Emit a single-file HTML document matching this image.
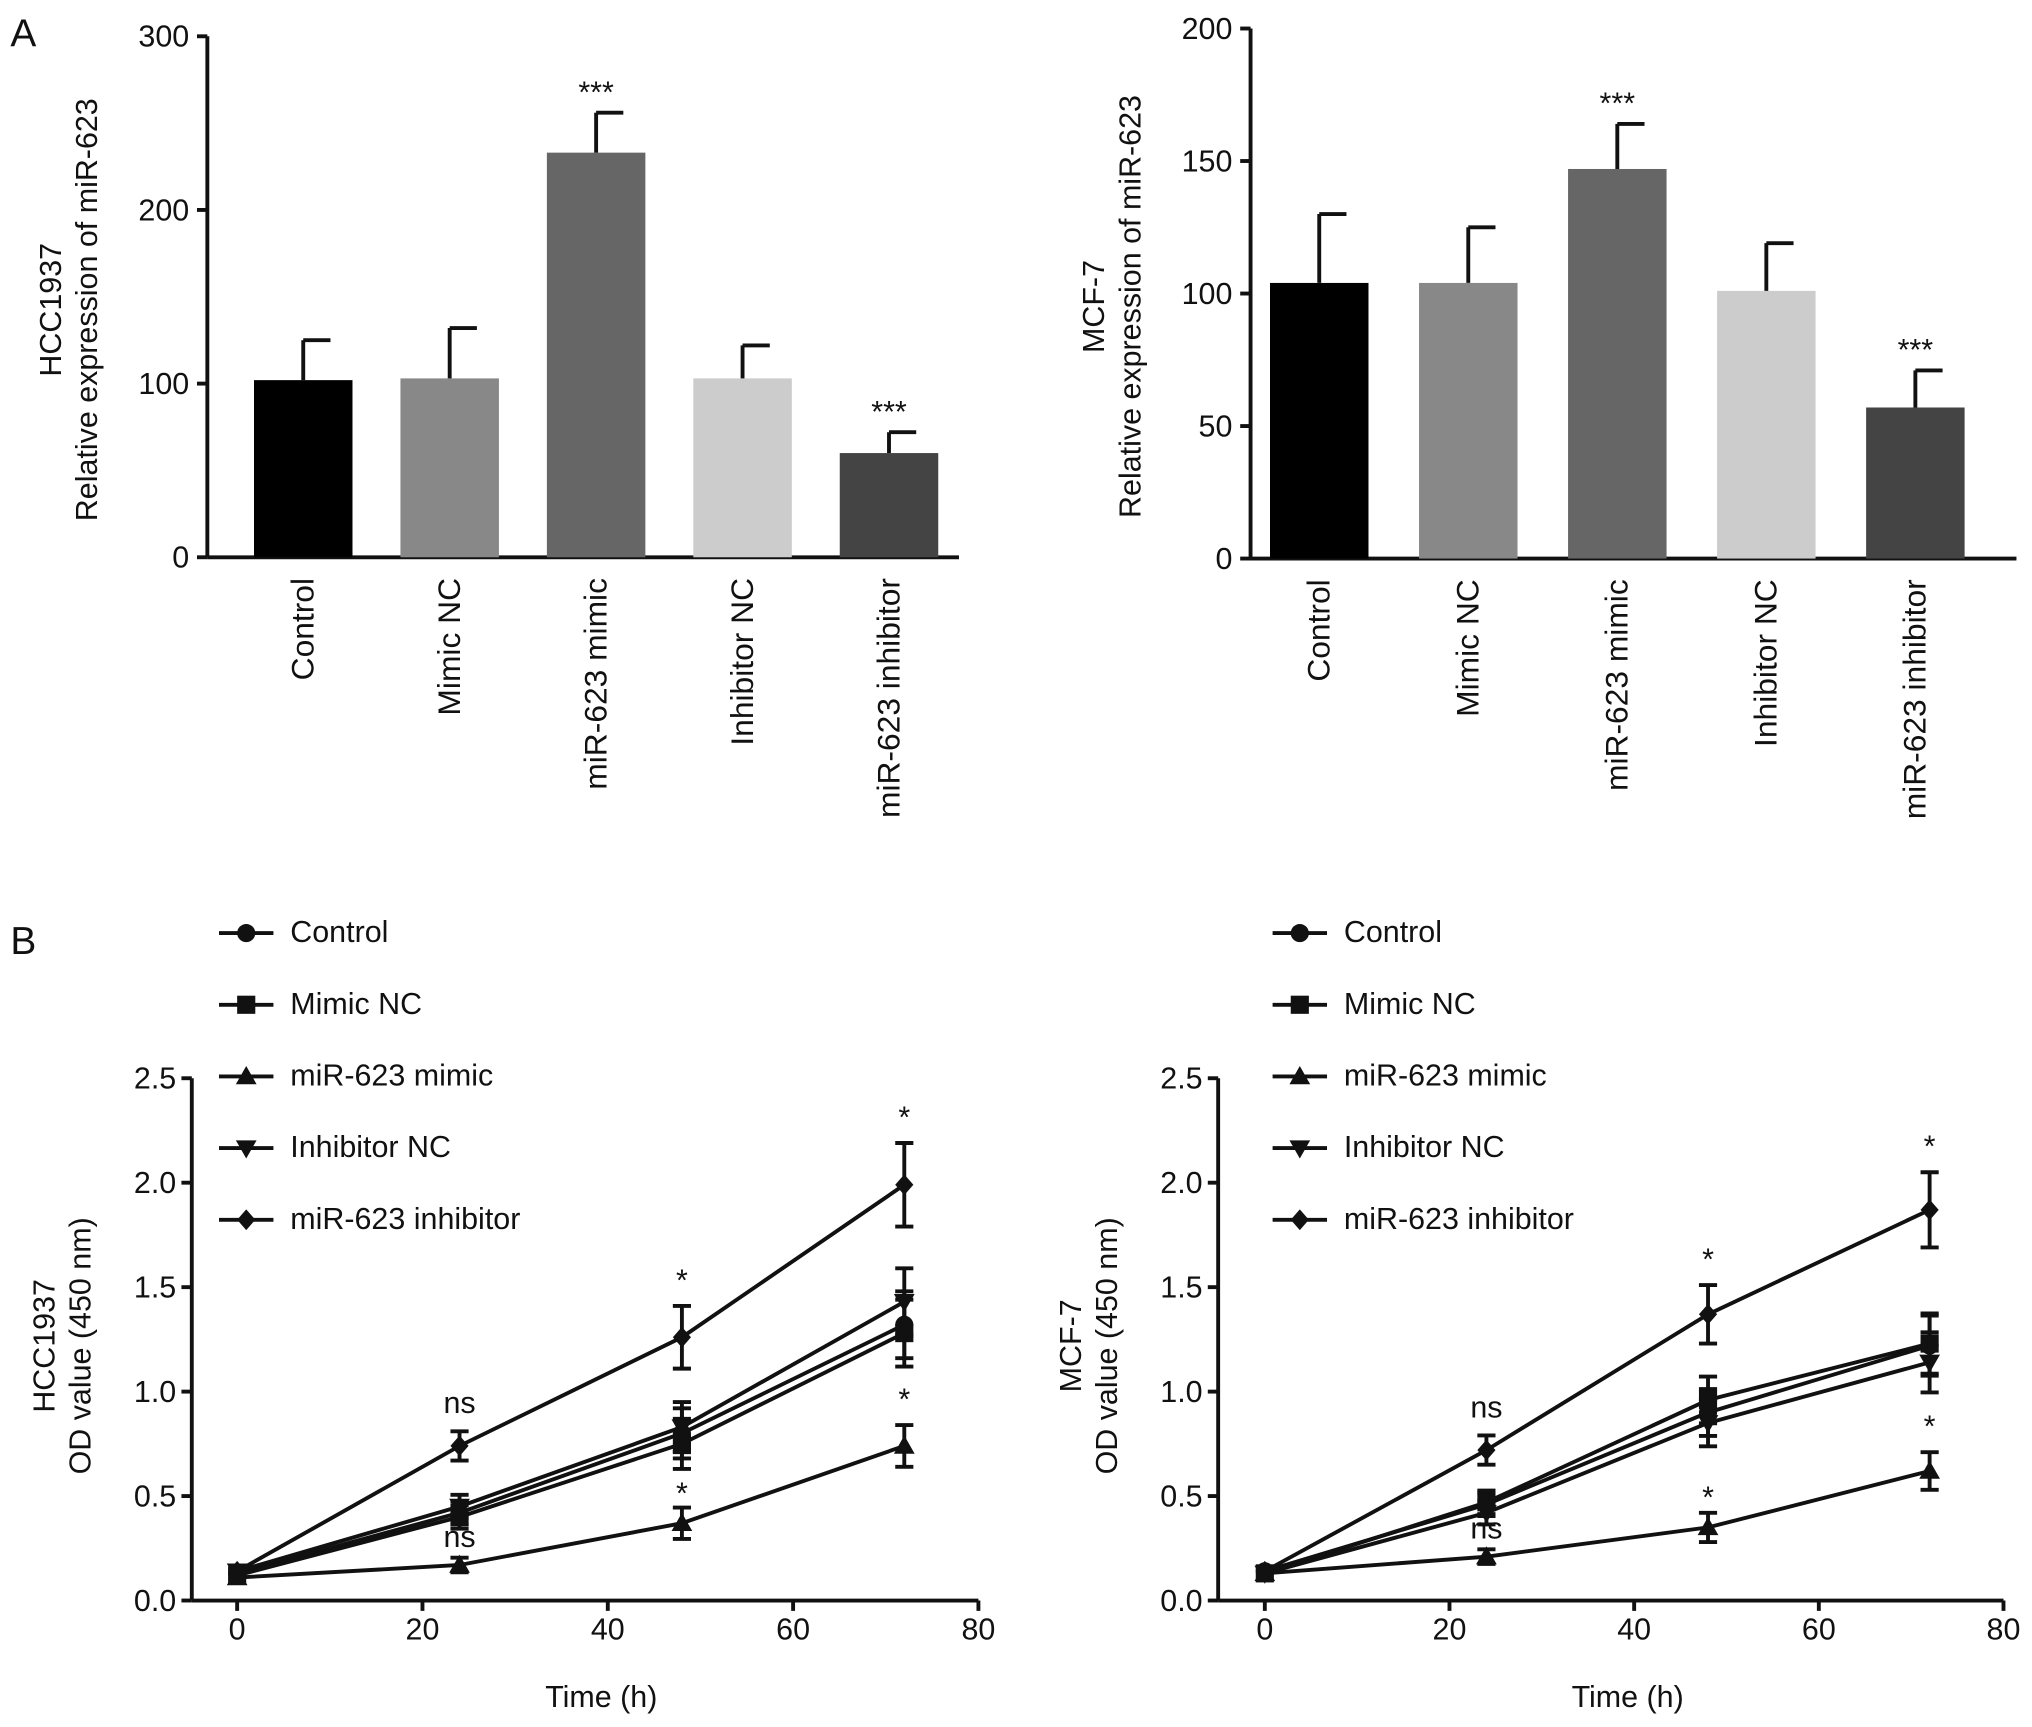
<!DOCTYPE html>
<html><head><meta charset="utf-8"><style>html,body{margin:0;padding:0;background:#fff}svg{display:block}text{font-family:"Liberation Sans",Arial,sans-serif;fill:#111}</style></head>
<body>
<svg id="fig" width="2032" height="1727" viewBox="0 0 1568 1332.6" preserveAspectRatio="none"></svg>
<script>
const cats=["Control","Mimic NC","miR-623 mimic","Inhibitor NC","miR-623 inhibitor"];
const barColors=["#000","#888","#666","#ccc","#444"];
const hccBar=[102,103,233,103,60];
const hccBarErr=[23,29,23,19,12];
const hccBarSig=["","","***","","***"];
const mcfBar=[104,104,147,101,57];
const mcfBarErr=[26,21,17,18,14];
const mcfBarSig=["","","***","","***"];
const hccTicks=[0,100,200,300];
const mcfTicks=[0,50,100,150,200];
const times=[0,24,48,72];
const hccControl=[0.13,0.42,0.80,1.32];
const hccMimicNC=[0.12,0.40,0.75,1.28];
const hccMimic=[0.11,0.17,0.37,0.74];
const hccInhNC=[0.14,0.45,0.83,1.43];
const hccInh=[0.14,0.74,1.26,1.99];
const hccErr=[0.04,0.07,0.15,0.2];
const mcfControl=[0.14,0.46,0.90,1.22];
const mcfMimicNC=[0.13,0.47,0.96,1.23];
const mcfMimic=[0.13,0.21,0.35,0.62];
const mcfInhNC=[0.13,0.42,0.85,1.14];
const mcfInh=[0.14,0.72,1.37,1.87];
const mcfErr=[0.04,0.07,0.14,0.18];
const odTicks=[0,0.5,1.0,1.5,2.0,2.5];
const timeTicks=[0,20,40,60,80];
const legendNames=["Control","Mimic NC","miR-623 mimic","Inhibitor NC","miR-623 inhibitor"];
const markers=["circle","square","tri","tridown","diamond"];

const S=document.getElementById('fig');const NS="http://www.w3.org/2000/svg";
const FS=23.5, LW=3;
function el(t,a,p){const e=document.createElementNS(NS,t);for(const k in a)e.setAttribute(k,a[k]);(p||S).appendChild(e);return e;}
function txt(x,y,s,a,p){const e=el('text',Object.assign({x:x,y:y},a||{}),p);e.textContent=s;return e;}
function line(x1,y1,x2,y2,w,p){return el('line',{x1,y1,x2,y2,stroke:'#111','stroke-width':w||LW},p);}

function barPanel(name,x0,x1,yTop,yBot,max,ticks,vals,errs,sigs,cell,off,step){
  const g=el('g',{});
  
  
  const y=v=>yBot-(v/max)*(yBot-yTop);
  line(x0,yTop,x0,yBot,LW,g);line(x0,yBot,x1,yBot,LW,g);
  ticks.forEach(t=>{line(x0-8,y(t),x0,y(t),LW,g);const tt=txt(x0-14,y(t)+8,String(t),{'text-anchor':'end','font-size':FS},g);});
  vals.forEach((v,i)=>{
    const cx=x0+off+i*step;
    const r=el('rect',{x:cx-38,y:y(v),width:76,height:yBot-y(v),fill:barColors[i]},g);
    
    
    line(cx,y(v),cx,y(v+errs[i]),LW,g);line(cx,y(v+errs[i]),cx+21,y(v+errs[i]),LW,g);
    if(sigs[i]){const s=txt(cx,y(v+errs[i])-8,sigs[i],{'text-anchor':'middle','font-size':FS},g);}
    const l=txt(0,0,cats[i],{'text-anchor':'end','font-size':FS+1,transform:`translate(${cx+8},${yBot+16}) rotate(-90)`},g);
    
  });
  const cy=(yTop+yBot)/2+10;
  const t1=txt(0,0,cell,{'text-anchor':'middle','font-size':FS,transform:`translate(${x0-113},${cy}) rotate(-90)`},g);
  
  const t2=txt(0,0,'Relative expression of miR-623',{'text-anchor':'middle','font-size':FS,transform:`translate(${x0-85},${cy}) rotate(-90)`},g);
  
}
barPanel('hcc1937-bar-chart',160,740,28,430,300,hccTicks,hccBar,hccBarErr,hccBarSig,'HCC1937',74,113);
barPanel('mcf7-bar-chart',965,1556,22,431,200,mcfTicks,mcfBar,mcfBarErr,mcfBarSig,'MCF-7',53,115);

function marker(kind,x,y,g){
  if(kind==='circle')return el('circle',{cx:x,cy:y,r:7,fill:'#111'},g);
  if(kind==='square')return el('rect',{x:x-7,y:y-7,width:14,height:14,fill:'#111'},g);
  if(kind==='tri')return el('polygon',{points:`${x},${y-8} ${x-8},${y+6} ${x+8},${y+6}`,fill:'#111'},g);
  if(kind==='tridown')return el('polygon',{points:`${x},${y+8} ${x-8},${y-6} ${x+8},${y-6}`,fill:'#111'},g);
  return el('polygon',{points:`${x},${y-8} ${x+7},${y} ${x},${y+8} ${x-7},${y}`,fill:'#111'},g);
}
function linePanel(name,ax,x0,x80,yTop,yBot,series,errs,cell,lx){
  const g=el('g',{});
  
  
  const X=t=>x0+(t/80)*(x80-x0),Y=v=>yBot-(v/2.5)*(yBot-yTop);
  line(ax,yTop,ax,yBot,LW,g);line(ax,yBot,x80,yBot,LW,g);
  odTicks.forEach(t=>{line(ax-8,Y(t),ax,Y(t),LW,g);const tt=txt(ax-12,Y(t)+8,t.toFixed(1),{'text-anchor':'end','font-size':FS},g);});
  timeTicks.forEach(t=>{line(X(t),yBot,X(t),yBot+8,LW,g);const tt=txt(X(t),yBot+30,String(t),{'text-anchor':'middle','font-size':FS},g);});
  series.forEach((s,si)=>{
    const p=el('polyline',{points:s.map((v,i)=>X(times[i])+','+Y(v)).join(' '),fill:'none',stroke:'#111','stroke-width':LW},g);
    
    
    s.forEach((v,i)=>{
      const e=errs[i]*(si===2?0.5:(si===4?1:0.8));
      if(i>0){line(X(times[i]),Y(v-e),X(times[i]),Y(v+e),LW,g);line(X(times[i])-7,Y(v+e),X(times[i])+7,Y(v+e),LW,g);line(X(times[i])-7,Y(v-e),X(times[i])+7,Y(v-e),LW,g);}
      const m=marker(markers[si],X(times[i]),Y(v),g);
      
    });
  });
  const inh=series[4],mim=series[2];
  const ann=[[1,inh,'ns',errs[1]],[1,mim,'ns',0],[2,inh,'*',errs[2]],[2,mim,'*',0.02],[3,inh,'*',errs[3]],[3,mim,'*',errs[3]*0.5]];
  ann.forEach(a=>{const t=txt(X(times[a[0]]),Y(a[1][a[0]]+a[3])-(a[2]==='ns'?14:12),a[2],{'text-anchor':'middle','font-size':FS},g);});
  legendNames.forEach((n,i)=>{
    const y=720+i*55.3;
    const lg=el('g',{},g);
    
    
    line(lx,y,lx+42,y,LW,lg);marker(markers[i],lx+21,y,lg);
    txt(lx+55,y+7,n,{'font-size':FS},lg);
  });
  const cy=(yTop+yBot)/2+5;
  const t1=txt(0,0,cell,{'text-anchor':'middle','font-size':FS,transform:`translate(${ax-106},${cy}) rotate(-90)`},g);
  
  const t2=txt(0,0,'OD value (450 nm)',{'text-anchor':'middle','font-size':FS,transform:`translate(${ax-78},${cy}) rotate(-90)`},g);
  
  const xt=txt((x0+x80)/2-5,yBot+82,'Time (h)',{'text-anchor':'middle','font-size':FS},g);
  
}
linePanel('hcc1937-growth-chart',148,183,755,832,1235,[hccControl,hccMimicNC,hccMimic,hccInhNC,hccInh],hccErr,'HCC1937',169);
linePanel('mcf7-growth-chart',940,976,1546,832,1235,[mcfControl,mcfMimicNC,mcfMimic,mcfInhNC,mcfInh],mcfErr,'MCF-7',982);
const A=txt(8,36,'A',{'font-size':30});
const B=txt(8,736,'B',{'font-size':30});
</script>
</body></html>
